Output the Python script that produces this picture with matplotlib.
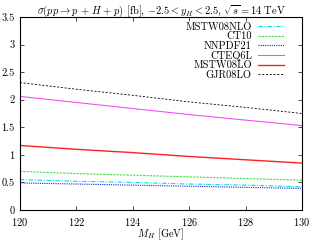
import matplotlib
matplotlib.use("Agg")
import matplotlib.pyplot as plt

plt.rcParams['font.family'] = ['cmr10', 'DejaVu Serif']
plt.rcParams['mathtext.fontset'] = 'cm'
plt.rcParams['axes.formatter.use_mathtext'] = True

# masses and cross sections [fb]
mh = [120, 122, 124, 126, 128, 130]
mstw08nlo = [0.55, 0.52, 0.50, 0.47, 0.45, 0.42]
ct10 = [0.70, 0.66, 0.63, 0.60, 0.57, 0.54]
nnpdf21 = [0.49, 0.47, 0.45, 0.43, 0.41, 0.39]
cteq6l = [2.06, 1.95, 1.84, 1.73, 1.63, 1.53]
mstw08lo = [1.17, 1.10, 1.04, 0.97, 0.91, 0.85]
gjr08lo = [2.31, 2.19, 2.08, 1.96, 1.86, 1.75]

fig = plt.figure(figsize=(3.11, 2.43), dpi=100)
ax = fig.add_axes([0.064, 0.136, 0.907, 0.794])

ax.plot(mh, mstw08nlo, color='#00e0e0', ls=(0, (4, 1.5, 1, 1.5)), lw=0.8, label='MSTW08NLO')
ax.plot(mh, ct10, color='#40e040', ls=(0, (2, 1)), lw=0.8, label='CT10')
ax.plot(mh, nnpdf21, color='#2020e0', ls=(0, (1, 1)), lw=0.8, label='NNPDF21')
ax.plot(mh, cteq6l, color='#f050f0', ls='-', lw=0.8, label='CTEQ6L')
ax.plot(mh, mstw08lo, color='#ff2020', ls='-', lw=1.0, label='MSTW08LO')
ax.plot(mh, gjr08lo, color='black', ls=(0, (2.5, 2)), lw=0.6, label='GJR08LO')

ax.set_xlim(120, 130)
ax.set_ylim(0, 3.5)
ax.set_xticks([120, 122, 124, 126, 128, 130])
ax.set_yticks([0, 0.5, 1, 1.5, 2, 2.5, 3, 3.5])
ax.set_yticklabels(['0', '0.5', '1', '1.5', '2', '2.5', '3', '3.5'])
ax.tick_params(direction='in', top=True, right=True, labelsize=7.5, length=3, width=0.5)
ax.tick_params(axis='x', pad=4)
ax.tick_params(axis='y', pad=4)
for s in ax.spines.values():
    s.set_linewidth(0.8)

ax.set_title(r'$\sigma(pp\rightarrow p\,+\,H+\,p)$ [fb], $-2.5<y_H<2.5$, $\sqrt{s}=14$ TeV',
             fontsize=7.5, pad=2)
ax.set_xlabel(r'$M_H$ [GeV]', fontsize=7.5, labelpad=-1)

ax.legend(loc='upper right', bbox_to_anchor=(0.955, 1.0), markerfirst=False, frameon=False,
          fontsize=7.5, handlelength=2.5, labelspacing=0.0, borderaxespad=0.1, handletextpad=0.6)

fig.savefig('out.png', dpi=100)
